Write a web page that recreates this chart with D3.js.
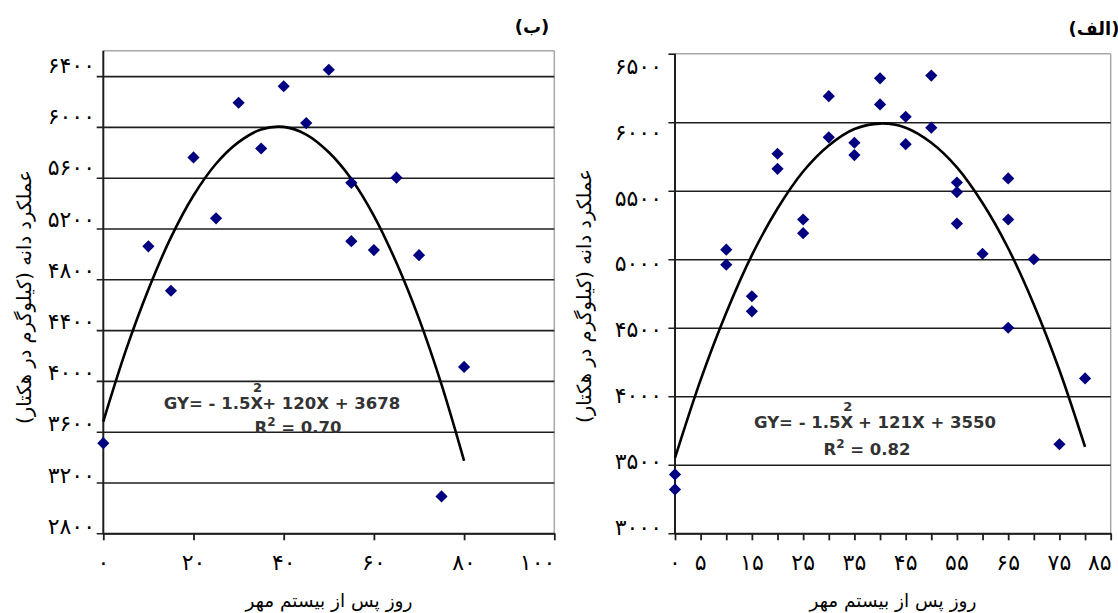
<!DOCTYPE html>
<html>
<head>
<meta charset="utf-8">
<script src="https://cdn.jsdelivr.net/npm/d3@7"></script>
<style>
  body { margin: 0; background: #fff; }
  svg { display: block; }
</style>
</head>
<body>
<svg id="chart" width="1118" height="613"></svg>
<script>
// ---- panel (ب) ----
const dayB   = [0, 10, 15, 20, 25, 30, 35, 40, 45, 50, 55, 55, 60, 65, 70, 75, 80];
const yieldB = [3510, 5060, 4710, 5760, 5280, 6190, 5830, 6320, 6030, 6450, 5560, 5100, 5030, 5600, 4990, 3090, 4110];
// trend curve
const trendDayB = [0, 5, 10, 15, 20, 25, 30, 35, 40, 45, 50, 55, 60, 65, 70, 75, 80];
const trendB    = [3680, 4240, 4720, 5130, 5460, 5710, 5880, 5980, 6000, 5940, 5800, 5590, 5300, 4930, 4490, 3970, 3370];
const yTicksB = [2800, 3200, 3600, 4000, 4400, 4800, 5200, 5600, 6000, 6400];
const xTicksB = [0, 20, 40, 60, 80, 100];

// ---- panel (الف) ----
const dayA   = [0, 0, 10, 10, 15, 15, 20, 20, 25, 25, 30, 30, 35, 35, 40, 40, 45, 45, 50, 50, 55, 55, 55, 60, 65, 65, 65, 70, 75, 80];
const yieldA = [3430, 3320, 5070, 4960, 4730, 4620, 5770, 5660, 5290, 5190, 6190, 5890, 5850, 5760, 6320, 6130, 6040, 5840, 6340, 5960, 5560, 5490, 5260, 5040, 5590, 5290, 4500, 5000, 3650, 4130];
const trendDayA = [0, 5, 10, 15, 20, 25, 30, 35, 40, 45, 50, 55, 60, 65, 70, 75, 80];
const trendA    = [3550, 4120, 4610, 5030, 5370, 5640, 5830, 5950, 5990, 5960, 5850, 5670, 5410, 5080, 4670, 4190, 3630];
const yTicksA = [3000, 3500, 4000, 4500, 5000, 5500, 6000, 6500];
const xTicksA = [0, 5, 10, 15, 20, 25, 30, 35, 40, 45, 50, 55, 60, 65, 70, 75, 80, 85];
const xLabelsA = [0, 5, 15, 25, 35, 45, 55, 65, 75, 85];

const yTitle = "عملکرد دانه (کیلوگرم در هکتار)";
const xTitle = "روز پس از بیستم مهر";

const faDigits = "۰۱۲۳۴۵۶۷۸۹";
function fa(n) { return String(n).replace(/\d/g, d => faDigits[+d]); }

const svg = d3.select("#chart");
const faFont = "'DejaVu Sans', sans-serif";

function panel(o) {
  const x = d3.scaleLinear().domain(o.xDomain).range(o.xRange);
  const y = d3.scaleLinear().domain(o.yDomain).range([533.3, o.top]);
  // label positions for y tick numbers (they sit a little off the grid in the source)
  const yLab = d3.scaleLinear().domain(o.yLabDomain).range(o.yLabRange);
  const w = o.xRange[1] - o.xRange[0];
  const g = svg.append("g");

  // frame top / right (light grey)
  g.append("line").attr("x1", o.xRange[0]).attr("x2", o.xRange[1])
    .attr("y1", o.top).attr("y2", o.top).attr("stroke", "#a8a8a8").attr("stroke-width", 1.5);
  g.append("line").attr("x1", o.xRange[1]).attr("x2", o.xRange[1])
    .attr("y1", o.top).attr("y2", 533.3).attr("stroke", "#a8a8a8").attr("stroke-width", 1.5);

  // grid + y ticks
  const ya = g.append("g").attr("transform", `translate(${o.xRange[0]},0)`)
    .call(d3.axisLeft(y).tickValues(o.yTicks).tickSize(6.6).tickFormat(""));
  ya.select(".domain").remove();
  ya.selectAll(".tick line")
    .attr("x1", -6.6).attr("x2", d => d === o.yDomain[1] ? 0 : w)
    .attr("stroke", "#1e1e1e").attr("stroke-width", 1.6);

  // x axis
  const xa = g.append("g").attr("transform", "translate(0,533.3)")
    .call(d3.axisBottom(x).tickValues(o.xTicks).tickSize(7).tickFormat("").tickSizeOuter(0));
  xa.select(".domain").attr("stroke", "#1e1e1e").attr("stroke-width", 2);
  xa.selectAll(".tick line").attr("stroke", "#1e1e1e").attr("stroke-width", 1.8);

  // y axis line
  g.append("line").attr("x1", o.xRange[0]).attr("x2", o.xRange[0])
    .attr("y1", o.top).attr("y2", 534.3).attr("stroke", "#1e1e1e").attr("stroke-width", 2);

  // y labels
  g.selectAll(".ylab").data(o.yTicks).join("text")
    .attr("x", o.yLabX).attr("y", d => yLab(d)).attr("dy", "0.36em")
    .attr("text-anchor", "end").attr("font-family", faFont).attr("font-size", 22)
    .attr("fill", "#000").text(d => fa(d));

  // x labels
  const last = o.xLabels[o.xLabels.length - 1];
  g.selectAll(".xlab").data(o.xLabels).join("text")
    .attr("x", d => x(d) + (d === last ? 1 : 0)).attr("y", 562).attr("dy", "0.36em")
    .attr("text-anchor", d => d === last ? "end" : "middle")
    .attr("font-family", faFont).attr("font-size", 22).attr("fill", "#000")
    .text(d => fa(d));

  // trend curve
  const line = d3.line().x(d => x(d[0])).y(d => y(d[1])).curve(d3.curveCatmullRom);
  g.append("path").datum(d3.zip(o.trendDay, o.trend)).attr("d", line)
    .attr("fill", "none").attr("stroke", "#000").attr("stroke-width", 2.6);

  // points
  const sym = d3.symbol().type(d3.symbolDiamond2 || d3.symbolDiamond).size(95);
  g.selectAll(".pt").data(d3.zip(o.day, o.yield)).join("path")
    .attr("transform", d => `translate(${x(d[0])},${y(d[1])})`)
    .attr("d", sym).attr("fill", "#000080");

  // equation
  const eq = g.append("text").attr("font-family", "'DejaVu Sans', sans-serif")
    .attr("font-weight", "bold").attr("font-size", 16.5).attr("fill", "#333")
    .attr("text-anchor", "middle").attr("x", o.eq1[0]).attr("y", o.eq1[1]);
  eq.append("tspan").text(o.eqA);
  eq.append("tspan").attr("dx", -10).attr("dy", -17).attr("font-size", 13).text("2");
  eq.append("tspan").attr("dx", 0).attr("dy", 17).text(o.eqB);
  const r2 = g.append("text").attr("font-family", "'DejaVu Sans', sans-serif")
    .attr("font-weight", "bold").attr("font-size", 16.5).attr("fill", "#333")
    .attr("text-anchor", "middle").attr("x", o.eq2[0]).attr("y", o.eq2[1]);
  r2.append("tspan").text("R");
  r2.append("tspan").attr("dy", -7).attr("font-size", 12).text("2");
  r2.append("tspan").attr("dy", 7).text(o.r2);

  // titles
  g.append("text").attr("transform", `translate(${o.yTitlePos[0]},${o.yTitlePos[1]}) rotate(-90)`)
    .attr("direction", "rtl").attr("text-anchor", "middle").attr("dy", "0.35em")
    .attr("font-family", faFont).attr("font-size", 19.5).attr("fill", "#000").text(yTitle);
  g.append("text").attr("x", o.xTitlePos[0]).attr("y", o.xTitlePos[1])
    .attr("direction", "rtl").attr("text-anchor", "middle")
    .attr("font-family", faFont).attr("font-size", 18.5).attr("fill", "#000").text(xTitle);
  g.append("text").attr("x", o.tag[0]).attr("y", o.tag[1])
    .attr("direction", "rtl").attr("text-anchor", "middle")
    .attr("font-family", faFont).attr("font-weight", "bold").attr("font-size", 18)
    .attr("fill", "#000").text(o.tagText);
}

panel({
  xDomain: [0, 100], xRange: [103.3, 554.3],
  yDomain: [2800, 6600], top: 50.7,
  yLabDomain: [2800, 6400], yLabRange: [526, 65], yLabX: 95,
  yTicks: yTicksB, xTicks: xTicksB, xLabels: xTicksB,
  day: dayB, yield: yieldB, trendDay: trendDayB, trend: trendB,
  eqA: "GY= - 1.5X", eqB: "+ 120X + 3678", r2: " = 0.70",
  eq1: [282, 409], eq2: [298, 433],
  yTitlePos: [24, 297], xTitlePos: [329, 607],
  tag: [532, 33], tagText: "(ب)"
});

panel({
  xDomain: [0, 85], xRange: [675, 1110.7],
  yDomain: [3000, 6500], top: 53.7,
  yLabDomain: [3000, 6500], yLabRange: [527, 66], yLabX: 662,
  yTicks: yTicksA, xTicks: xTicksA, xLabels: xLabelsA,
  day: dayA, yield: yieldA, trendDay: trendDayA, trend: trendA,
  eqA: "GY= - 1.5X", eqB: " + 121X + 3550", r2: " = 0.82",
  eq1: [875, 428], eq2: [867, 455],
  yTitlePos: [584, 296], xTitlePos: [893, 607],
  tag: [1094, 35], tagText: "(الف)"
});
</script>
</body>
</html>
